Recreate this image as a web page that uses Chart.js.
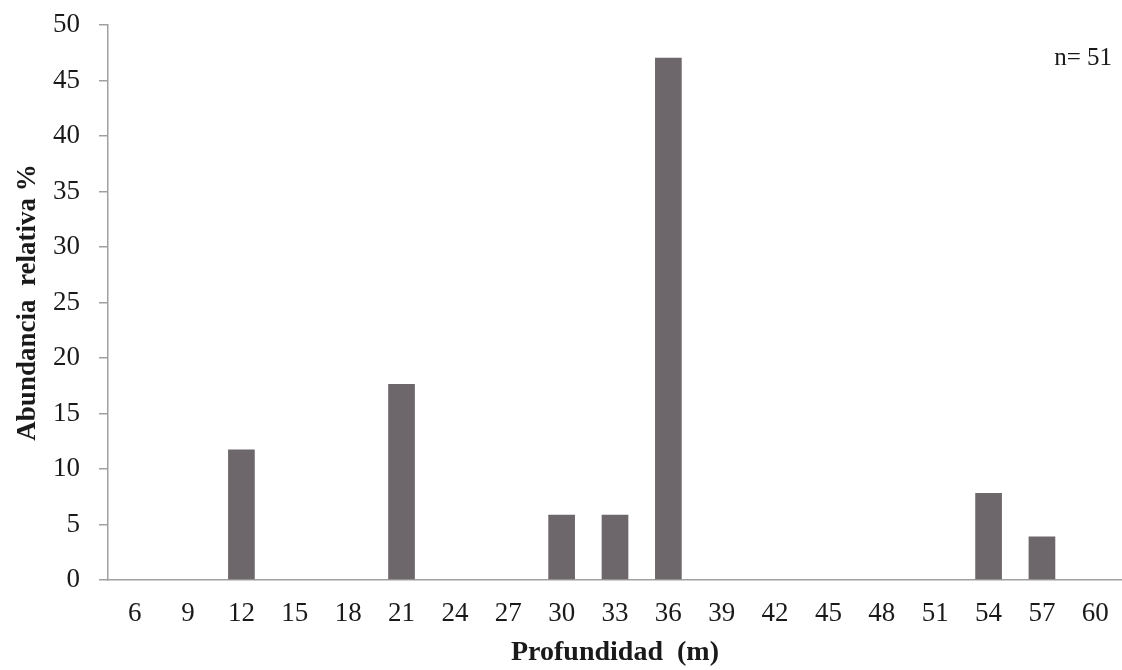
<!DOCTYPE html>
<html>
<head>
<meta charset="utf-8">
<script src="https://cdn.jsdelivr.net/npm/chart.js@4"></script>
<style>
html,body{margin:0;padding:0;background:#fff;}
#wrap{width:1122px;height:670px;position:relative;}
</style>
</head>
<body>
<div id="wrap"><canvas id="c" width="1122" height="670"></canvas></div>
<script>
const depthLabels = ["6","9","12","15","18","21","24","27","30","33","36","39","42","45","48","51","54","57","60"];
const abundance = [0,0,11.76,0,0,17.65,0,0,5.88,5.88,47.06,0,0,0,0,0,7.84,3.92,0];
const yTicks = [0,5,10,15,20,25,30,35,40,45,50];
const sampleNote = "n= 51";
const xTitle = "Profundidad  (m)";
const yTitle = "Abundancia  relativa %";

const serif = "'Liberation Serif', 'DejaVu Serif', serif";

const notePlugin = {
  id: 'note',
  afterDraw(chart) {
    const ctx = chart.ctx;
    ctx.save();
    ctx.font = "25px " + serif;
    ctx.fillStyle = "#1a1a1a";
    ctx.textAlign = "right";
    ctx.textBaseline = "middle";
    ctx.fillText(sampleNote, chart.chartArea.right - 10, 58);
    ctx.restore();
  }
};

new Chart(document.getElementById('c'), {
  type: 'bar',
  data: {
    labels: depthLabels,
    datasets: [{
      data: abundance,
      backgroundColor: '#6d666a',
      borderWidth: 0,
      barPercentage: 0.5,
      categoryPercentage: 1.0
    }]
  },
  options: {
    responsive: false,
    animation: false,
    devicePixelRatio: 1,
    layout: { padding: { top: 25, right: 0, bottom: 0, left: 0 } },
    plugins: { legend: { display: false }, tooltip: { enabled: false } },
    scales: {
      x: {
        grid: { display: true, drawOnChartArea: false, drawTicks: true, tickLength: 16, tickColor: 'rgba(0,0,0,0)' },
        border: { display: true, color: '#a0a0a0', width: 1.5 },
        ticks: { color: '#1a1a1a', font: { family: serif, size: 27 }, padding: 2, maxRotation: 0, autoSkip: false },
        title: { display: true, text: xTitle, color: '#1a1a1a', font: { family: serif, size: 28, weight: 'bold' }, padding: { top: 0, bottom: 0 } },
        afterFit(s) { s.height = 90; }
      },
      y: {
        min: 0, max: 50,
        afterBuildTicks(s) { s.ticks = yTicks.map(v => ({ value: v })); },
        grid: { display: true, drawOnChartArea: false, drawTicks: true, tickLength: 9, color: '#a0a0a0', lineWidth: 1.5 },
        border: { display: true, color: '#a0a0a0', width: 1.5 },
        ticks: { color: '#1a1a1a', font: { family: serif, size: 27 }, padding: 19 },
        title: { display: true, text: yTitle, color: '#1a1a1a', font: { family: serif, size: 27, weight: 'bold' }, padding: { top: 12, bottom: 0 } },
        afterFit(s) { s.width = 108; s.paddingTop = 0; s.paddingBottom = 0; }
      }
    }
  },
  plugins: [notePlugin]
});
</script>
</body>
</html>
